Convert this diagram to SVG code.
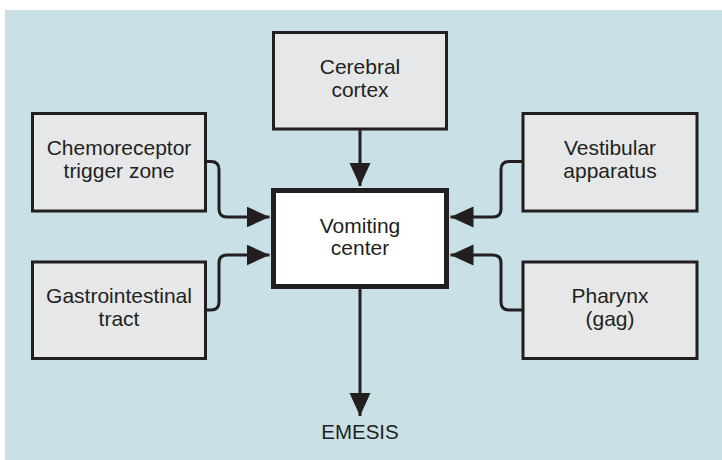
<svg xmlns="http://www.w3.org/2000/svg" width="722" height="460" viewBox="0 0 722 460">
<style>
.box{fill:#e6e7e8;stroke:#231f20;stroke-width:3}
.main{fill:#ffffff;stroke:#231f20;stroke-width:5}
.lbl{font-family:"Liberation Sans",Arial,sans-serif;font-size:21px;fill:#231f20;text-anchor:middle}
.con{fill:none;stroke:#231f20;stroke-width:3;marker-end:url(#ah)}
</style>
<defs>
<marker id="ah" markerUnits="userSpaceOnUse" markerWidth="24" markerHeight="22" refX="23" refY="10.5" orient="auto" viewBox="0 0 24 22">
<path d="M0,0 L23,10.5 L0,21 z" fill="#231f20"/>
</marker>
</defs>
<rect x="5" y="10" width="717" height="450" fill="#c9e1e6"/>
<g id="connectors">
<path class="con" d="M360,130 V186"/>
<path class="con" d="M207,161.5 H211 Q219,161.5 219,169.5 V209 Q219,217 227,217 H269.5"/>
<path class="con" d="M207,310 H211 Q219,310 219,302 V263 Q219,255 227,255 H269.5"/>
<path class="con" d="M522,161.5 H509 Q501,161.5 501,169.5 V209 Q501,217 493,217 H450.5"/>
<path class="con" d="M522,310 H509 Q501,310 501,302 V263 Q501,255 493,255 H450.5"/>
<path class="con" d="M360,289 V416"/>
</g>
<g id="cerebral">
<rect class="box" x="273.5" y="32.5" width="173" height="96.5"/>
<text class="lbl" x="360" y="74">Cerebral</text>
<text class="lbl" x="360" y="96.5">cortex</text>
</g>
<g id="chemoreceptor">
<rect class="box" x="32.5" y="113.5" width="173" height="97.5"/>
<text class="lbl" x="119" y="155">Chemoreceptor</text>
<text class="lbl" x="119" y="178">trigger zone</text>
</g>
<g id="vestibular">
<rect class="box" x="523" y="113.5" width="174" height="97.5"/>
<text class="lbl" x="610" y="155">Vestibular</text>
<text class="lbl" x="610" y="178">apparatus</text>
</g>
<g id="gastrointestinal">
<rect class="box" x="32.5" y="262" width="173" height="96.5"/>
<text class="lbl" x="119" y="303">Gastrointestinal</text>
<text class="lbl" x="119" y="326">tract</text>
</g>
<g id="pharynx">
<rect class="box" x="523" y="262" width="174" height="96.5"/>
<text class="lbl" x="610" y="303">Pharynx</text>
<text class="lbl" x="610" y="326">(gag)</text>
</g>
<g id="vomiting">
<rect class="main" x="273.5" y="190.5" width="173" height="96"/>
<text class="lbl" x="360" y="232.5">Vomiting</text>
<text class="lbl" x="360" y="255">center</text>
</g>
<g id="emesis">
<text class="lbl" x="360" y="439" style="font-size:20.5px">EMESIS</text>
</g>
</svg>
